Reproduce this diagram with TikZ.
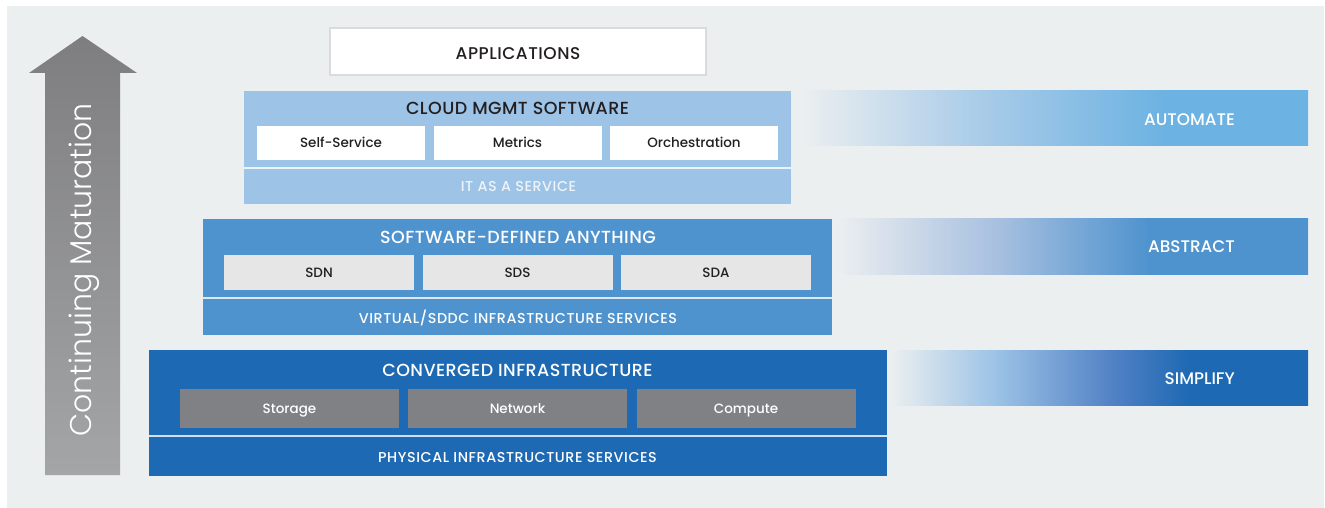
\documentclass[tikz,border=0pt]{standalone}
\usepackage{fontspec}
\setmainfont{Poppins}
\newfontfamily\lightf{Poppins Light}
\newfontfamily\medf{Poppins Medium}
\newfontfamily\medttl{Poppins Medium}[LetterSpace=2.5]
\newfontfamily\medapp{Poppins Medium}[LetterSpace=3]
\newfontfamily\medsvc{Poppins Medium}[LetterSpace=4]
\definecolor{bgc}{HTML}{ECEFF0}
\definecolor{cA}{HTML}{9DC3E6}
\definecolor{cB}{HTML}{4F93CE}
\definecolor{cC}{HTML}{1D69B3}
\definecolor{txt}{HTML}{231F20}
\definecolor{ginner}{HTML}{E6E6E6}
\definecolor{gdark}{HTML}{808184}
\definecolor{appborder}{HTML}{D9DCDD}
\definecolor{arrtop}{HTML}{7E7E81}
\definecolor{arrbot}{HTML}{A4A5A7}
\definecolor{autoc}{HTML}{6CB2E2}
\definecolor{automid}{HTML}{A8CBE8}
\definecolor{absmid}{HTML}{A8C0E0}
\definecolor{simmid}{HTML}{9DC3E6}
\definecolor{simmid2}{HTML}{4F80C4}
\definecolor{svcA}{HTML}{EEF4FA}
\pgfdeclarehorizontalshading{autoshade}{100bp}{color(0bp)=(bgc); color(25bp)=(bgc); color(43bp)=(automid); color(61bp)=(autoc); color(100bp)=(autoc)}
\pgfdeclarehorizontalshading{absshade}{100bp}{color(0bp)=(bgc); color(25bp)=(bgc); color(42bp)=(absmid); color(58bp)=(cB); color(100bp)=(cB)}
\pgfdeclarehorizontalshading{simshade}{100bp}{color(0bp)=(bgc); color(25bp)=(bgc); color(37.5bp)=(simmid); color(52bp)=(simmid2); color(61bp)=(cC); color(100bp)=(cC)}
\tikzset{
  layer/.style={anchor=north west, inner sep=0pt, outer sep=0pt, draw=none},
  inbox/.style={layer, minimum height=#1, font=\medf\fontsize{13.5}{13.5}\selectfont, text height=9.45pt, text depth=0pt},
  ttl/.style={inner sep=0pt, font=\medttl\fontsize{17.5}{17.5}\selectfont, text height=12.25pt, text depth=0pt},
  svc/.style={inner sep=0pt, font=\medsvc\fontsize{14.3}{14.3}\selectfont, text height=10pt, text depth=0pt},
  side/.style={inner sep=0pt, anchor=east, text=white, font=\medf\fontsize{16.8}{16.8}\selectfont, text height=11.76pt, text depth=0pt},
  divider/.style={draw=white, draw opacity=0.8, line width=2pt},
  band/.style={anchor=north west, inner sep=0pt, outer sep=0pt}
}
\begin{document}
\begin{tikzpicture}[x=1pt,y=-1pt]
\useasboundingbox (0,0) rectangle (1325,508);
\fill[white] (0,0) rectangle (1325,508);
\fill[bgc] (7,6) rectangle (1323.5,507.5);
% maturation arrow
\shade[top color=arrtop,bottom color=arrbot] (45,475) -- (45,73) -- (29,73) -- (82.5,36) -- (137,73) -- (120,73) -- (120,475) -- cycle;
\node[rotate=90, inner sep=0pt, text=white, font=\lightf\fontsize{30}{30}\selectfont] (mat) at (84,270) {Continuing Maturation};
% applications
\node[layer, draw=appborder, line width=2pt, fill=white, minimum width=376pt, minimum height=47pt] (app) at (330,28) {};
\node[inner sep=0pt, text=txt, font=\medapp\fontsize{17}{17}\selectfont, text height=11.9pt, text depth=0pt] (appt) at (518,53.3) {APPLICATIONS};
% cloud layer
\node[layer, fill=cA, minimum width=547pt, minimum height=113pt] (cloud) at (244,91) {};
\node[ttl, text=txt] (cloudt) at (517.5,108.8) {CLOUD MGMT SOFTWARE};
\node[inbox=34pt, fill=white, text=txt, minimum width=168pt] (ss) at (257,126) {Self-Service};
\node[inbox=34pt, fill=white, text=txt, minimum width=168pt] (met) at (433.5,126) {Metrics};
\node[inbox=34pt, fill=white, text=txt, minimum width=168pt] (orc) at (610,126) {Orchestration};
\draw[divider] (cloud.west |- 0,167.5) -- (cloud.east |- 0,167.5);
\node[svc, text=svcA] (itaas) at (518.5,186) {IT AS A SERVICE};
% software-defined layer
\node[layer, fill=cB, minimum width=629pt, minimum height=116pt] (sdx) at (203,219) {};
\node[ttl, text=white] (sdxt) at (518,237) {SOFTWARE-DEFINED ANYTHING};
\node[inbox=35pt, fill=ginner, text=txt, minimum width=190pt] (sdn) at (224,255) {SDN};
\node[inbox=35pt, fill=ginner, text=txt, minimum width=190pt] (sds) at (422.5,255) {SDS};
\node[inbox=35pt, fill=ginner, text=txt, minimum width=190pt] (sda) at (621,255) {SDA};
\draw[divider] (sdx.west |- 0,298) -- (sdx.east |- 0,298);
\node[svc, text=white] (virt) at (518,318) {VIRTUAL/SDDC INFRASTRUCTURE SERVICES};
% converged layer
\node[layer, fill=cC, minimum width=738pt, minimum height=126pt] (conv) at (149,350) {};
\node[ttl, text=white] (convt) at (517.5,370) {CONVERGED INFRASTRUCTURE};
\node[inbox=39pt, fill=gdark, text=white, minimum width=219pt] (sto) at (180,389) {Storage};
\node[inbox=39pt, fill=gdark, text=white, minimum width=219pt] (net) at (408,389) {Network};
\node[inbox=39pt, fill=gdark, text=white, minimum width=219pt] (com) at (636.5,389) {Compute};
\draw[divider] (conv.west |- 0,435.5) -- (conv.east |- 0,435.5);
\node[svc, text=white] (phys) at (517.5,457.5) {PHYSICAL INFRASTRUCTURE SERVICES};
% bands
\node[band, shading=autoshade, minimum width=508pt, minimum height=55pt] (autob) at (800,91) {};
\node[side] (autot) at (1235,119.5) {AUTOMATE};
\node[band, shading=absshade, minimum width=472pt, minimum height=56pt] (absb) at (836,218) {};
\node[side] (abst) at (1235,246.7) {ABSTRACT};
\node[band, shading=simshade, minimum width=418pt, minimum height=55pt] (simb) at (890,350) {};
\node[side] (simt) at (1235,378.5) {SIMPLIFY};
\end{tikzpicture}
\end{document}
